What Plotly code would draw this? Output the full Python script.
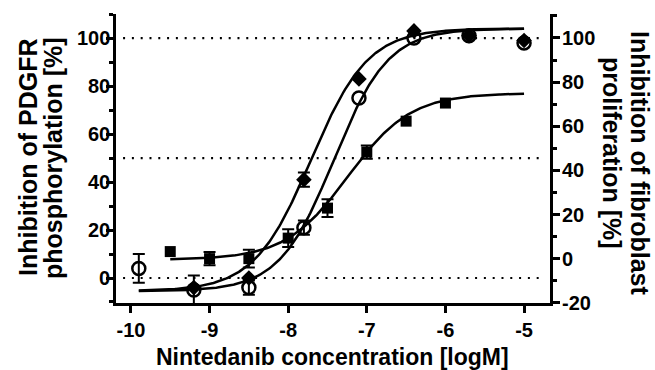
import numpy as np
import plotly.graph_objects as go

# ---------------- data ----------------
# PDGFR phosphorylation (left axis), 5-fold dilution series
x_pdgfr = [-9.9, -9.2, -8.5, -7.8, -7.1, -6.4, -5.7, -5.0]
diamond_vals = [None, -4, 0, 41, 83, 103, 101, 99]
diamond_err = [None, None, None, 3, None, None, None, None]
circle_vals = [4, -5, -4, 21, 75, 100, 101, 98]
circle_err = [6, 6, 3, 3, None, None, None, None]

# Fibroblast proliferation (right axis), half-log series
x_prolif = [-9.5, -9.0, -8.5, -8.0, -7.5, -7.0, -6.5, -6.0]
square_vals = [3.2, 0, 0, 9.3, 22.9, 48.3, 62.3, 70.5]
square_err = [None, 3, 4, 4, 4, 3, None, None]

# 4-parameter logistic fit parameters (bottom, top, logEC50, hill)
fit_diamond = (-5.5, 104, -7.71, 1.2)
fit_circle = (-5.5, 104, -7.42, 1.25)
fit_square = (-0.5, 75, -7.24, 1.09)

x_ticks = [-10, -9, -8, -7, -6, -5]
x_ticktext = ["-10", "-9", "-8", "-7", "-6", "-5"]
y_ticks = [0, 20, 40, 60, 80, 100]
y_ticktext = ["0", "20", "40", "60", "80", "100"]
y2_ticks = [-20, 0, 20, 40, 60, 80, 100]
y2_ticktext = ["-20", "0", "20", "40", "60", "80", "100"]
ref_levels = [0, 50, 100]

x_title = "Nintedanib concentration [logM]"
y_title_lines = ["Inhibition of PDGFR", "phosphorylation [%]"]
y2_title_lines = ["Inhibition of fibroblast", "proliferation [%]"]


def logistic(x, p):
    b, t, ec, h = p
    return b + (t - b) / (1 + 10 ** ((ec - x) * h))


def with_err(xs, ys, errs):
    pts = [(a, b, e) for a, b, e in zip(xs, ys, errs)
           if e is not None and b is not None]
    return [p[0] for p in pts], [p[1] for p in pts], [p[2] for p in pts]


FONT = "Liberation Sans, Arial, sans-serif"
L, R, T, B = 116, 105, 14, 67
PW = 655 - L - R
PH = 370 - T - B
fig = go.Figure()

# fitted curves
xa = np.linspace(x_pdgfr[0], x_pdgfr[-1], 300)
xs = np.linspace(x_prolif[0], x_pdgfr[-1], 300)
line_style = dict(color="black", width=2.5)
fig.add_trace(go.Scatter(x=xa, y=logistic(xa, fit_diamond), mode="lines",
                         line=line_style, hoverinfo="skip"))
fig.add_trace(go.Scatter(x=xa, y=logistic(xa, fit_circle), mode="lines",
                         line=line_style, hoverinfo="skip"))
fig.add_trace(go.Scatter(x=xs, y=logistic(xs, fit_square), mode="lines",
                         line=line_style, hoverinfo="skip", yaxis="y2"))

err_style = dict(type="data", visible=True, color="black", thickness=2, width=6)

# error bars (only for points that show one)
for xv, yv, ev, ax in [(x_prolif, square_vals, square_err, "y2"),
                       (x_pdgfr, diamond_vals, diamond_err, "y"),
                       (x_pdgfr, circle_vals, circle_err, "y")]:
    ex, ey, ee = with_err(xv, yv, ev)
    fig.add_trace(go.Scatter(x=ex, y=ey, mode="markers", yaxis=ax,
                             marker=dict(size=1, opacity=0),
                             error_y=dict(array=ee, **err_style),
                             hoverinfo="skip"))

fig.add_trace(go.Scatter(
    x=x_prolif, y=square_vals, mode="markers", yaxis="y2",
    marker=dict(symbol="square", size=11, color="black")))
fig.add_trace(go.Scatter(
    x=x_pdgfr, y=diamond_vals, mode="markers",
    marker=dict(symbol="diamond", size=12, color="black")))
fig.add_trace(go.Scatter(
    x=x_pdgfr, y=circle_vals, mode="markers",
    marker=dict(symbol="circle-open", size=13, color="black",
                line=dict(width=2.5, color="black"))))

# dotted reference lines
for lv in ref_levels:
    fig.add_shape(type="line", xref="x", yref="y", x0=-10.1, x1=-4.74,
                  y0=lv, y1=lv, layer="below",
                  line=dict(color="black", width=2.2, dash="2px,6.8px"))

tickfont = dict(family=FONT, size=20, color="black", weight="bold")
axis_common = dict(showline=True, linecolor="black", linewidth=3,
                   ticks="outside", ticklen=7, tickwidth=2.5, tickcolor="black",
                   showgrid=False, zeroline=False, tickfont=tickfont)

fig.update_layout(
    width=655, height=370,
    margin=dict(l=L, r=R, t=T, b=B),
    paper_bgcolor="white", plot_bgcolor="white",
    showlegend=False,
    xaxis=dict(range=[-10.19, -4.67], tickvals=x_ticks, ticktext=x_ticktext,
               **axis_common),
    yaxis=dict(range=[-10.42, 110.05], tickvals=y_ticks, showticklabels=False,
               minor=dict(ticks="outside", ticklen=4, tickwidth=2.5,
                          tickcolor="black", dtick=10, tick0=0),
               **axis_common),
    yaxis2=dict(range=[-20.1, 110.85], overlaying="y", side="right",
                tickvals=y2_ticks, showticklabels=False,
                minor=dict(ticks="outside", ticklen=4, tickwidth=2.5,
                           tickcolor="black", dtick=10, tick0=0),
                **axis_common),
)

ann = []
# y tick labels placed close to the ticks (as in the reference)
for v, t in zip(y_ticks, y_ticktext):
    ann.append(dict(text=t, xref="paper", yref="y", x=(111 - L) / PW, y=v,
                    xanchor="right", yanchor="middle", showarrow=False,
                    font=tickfont, borderpad=0))
for v, t in zip(y2_ticks, y2_ticktext):
    ann.append(dict(text=t, xref="paper", yref="y2", x=(561 - L) / PW, y=v,
                    xanchor="left", yanchor="middle", showarrow=False,
                    font=tickfont, borderpad=0))

title_font = dict(family=FONT, size=23, color="black", weight="bold")
ytitle_font = dict(family=FONT, size=25, color="black", weight="bold")
# x title
ann.append(dict(text=x_title, xref="paper", yref="paper",
                x=(332 - L) / PW, y=(303 - 357) / PH,
                xanchor="center", yanchor="middle", showarrow=False,
                font=title_font))
# left title lines
for txt, px in zip(y_title_lines, [28, 53]):
    ann.append(dict(text=txt, xref="paper", yref="paper",
                    x=(px - L) / PW, y=(303 - 158) / PH,
                    xanchor="center", yanchor="middle", showarrow=False,
                    textangle=-90, font=ytitle_font))
# right title lines
for txt, px, py in zip(y2_title_lines, [640, 612], [163, 153]):
    ann.append(dict(text=txt, xref="paper", yref="paper",
                    x=(px - L) / PW, y=(303 - py) / PH,
                    xanchor="center", yanchor="middle", showarrow=False,
                    textangle=90, font=ytitle_font))
fig.update_layout(annotations=ann)

fig.write_html("out.html",
               config={"displayModeBar": False},
               post_script="document.body.style.margin='0';"
                           "document.body.style.overflow='hidden';")
